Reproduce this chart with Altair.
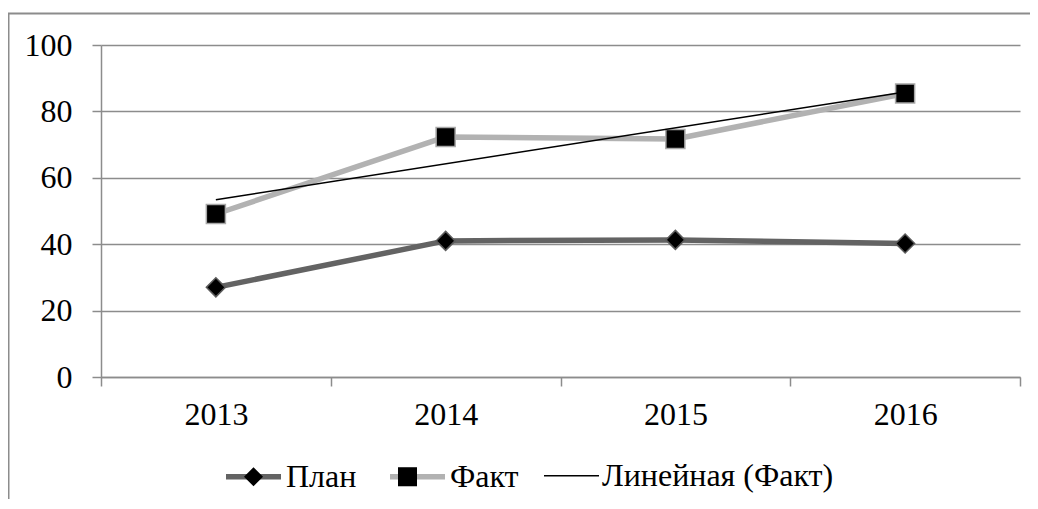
import math
import altair as alt
import pandas as pd

# ---- data ----
years = ["2013", "2014", "2015", "2016"]
plan = [27.0, 41.0, 41.3, 40.2]
fact = [49.1, 72.3, 71.7, 85.4]
series = ["План", "Факт", "Линейная (Факт)"]
y_ticks = [0, 20, 40, 60, 80, 100]

# ---- styles ----
line_colors = ["#636363", "#b2b2b2", "#000000"]
line_widths = [5.5, 5.5, 1.5]
marker_stroke_plan = "#5c5c5c"
marker_stroke_fact = "#a8a8a8"
axis_gray = "#8c8c8c"
FONT = "'Liberation Serif', 'Times New Roman', Times, serif"
FS = 32

df = pd.DataFrame({
    "year": years + years,
    "value": plan + fact,
    "s": [series[0]] * len(years) + [series[1]] * len(years),
})
df["m"] = df["s"]
df["yn"] = df["year"].astype(int)

# legend geometry
LINE_LEN = 55.0
OFF = math.ceil(LINE_LEN + max(line_widths))
SHAPE_W = OFF - 1.5
SHAPE_SIZE = SHAPE_W ** 2
LX, LY = 122, 401
COL_PAD = 22
PLAN_LABEL_W = 69  # approx. rendered width of the first legend label

k = 0.32
diamond = f"M0,-{k}L{k},0L0,{k}L-{k},0Z"
square = f"M-{k},-{k}H{k}V{k}H-{k}Z"

common_leg = dict(
    title=None, orient="none", legendX=LX, legendY=LY, direction="horizontal",
    labelFont=FONT, labelFontSize=FS, labelColor="black", labelOffset=2,
    labelLimit=500, padding=0,
)

x_enc = alt.X("year:O", title=None,
              scale=alt.Scale(type="band", domain=years, paddingInner=0, paddingOuter=0),
              axis=alt.Axis(labelAngle=0, labelFont=FONT, labelFontSize=FS, labelColor="black",
                            tickBand="extent", tickSize=9, tickColor=axis_gray, tickWidth=1.5,
                            domainColor=axis_gray, domainWidth=1.5, labelPadding=13, grid=False))
y_enc = alt.Y("value:Q", title=None,
              scale=alt.Scale(domain=[0, 100], nice=False),
              axis=alt.Axis(values=y_ticks, labelFont=FONT, labelFontSize=FS, labelColor="black",
                            tickSize=9, tickColor=axis_gray, tickWidth=1.5, domainColor=axis_gray,
                            domainWidth=1.5, gridColor=axis_gray, gridWidth=1.5, labelPadding=20))

stroke_enc = alt.Stroke("s:N", scale=alt.Scale(domain=series, range=line_colors),
                        legend=alt.Legend(symbolType="stroke", symbolSize=LINE_LEN ** 2,
                                          symbolFillColor="transparent", columnPadding=COL_PAD,
                                          **common_leg))
sw_enc = alt.StrokeWidth("s:N", scale=alt.Scale(type="ordinal", domain=series, range=line_widths),
                         legend=alt.Legend(symbolType="stroke", symbolSize=LINE_LEN ** 2,
                                           symbolFillColor="transparent", columnPadding=COL_PAD,
                                           **common_leg))

frame = alt.Chart(pd.DataFrame({"f": [0]})).mark_rect(
    fillOpacity=0, stroke=axis_gray, strokeWidth=2
).encode(x=alt.value(-92.5), x2=alt.value(960), y=alt.value(-31.5), y2=alt.value(520))

lines = alt.Chart(df).mark_line(strokeJoin="round", strokeCap="round").encode(
    x=x_enc, y=y_enc, stroke=stroke_enc, strokeWidth=sw_enc, detail="s:N"
)

points = alt.Chart(df).mark_point(filled=True, opacity=1, strokeWidth=1.5).encode(
    x=x_enc, y=y_enc,
    shape=alt.Shape("m:N", scale=alt.Scale(range=[diamond, square]),
                    legend=alt.Legend(symbolSize=SHAPE_SIZE, symbolFillColor="black",
                                      symbolStrokeColor="#808080", symbolStrokeWidth=1.5,
                                      symbolOpacity=1, labelExpr="''",
                                      columnPadding=COL_PAD + PLAN_LABEL_W, **common_leg)),
    fill=alt.value("black"),
    stroke=alt.when(alt.datum.m == series[0]).then(alt.value(marker_stroke_plan))
                 .otherwise(alt.value(marker_stroke_fact)),
    size=alt.value(SHAPE_SIZE),
)

trend = alt.Chart(df).transform_filter(
    alt.datum.s == series[1]
).transform_regression(
    "yn", "value", method="linear", extent=[int(years[0]), int(years[-1])]
).transform_calculate(
    year="toString(datum.yn)", s=f"'{series[2]}'"
).mark_line().encode(
    x=x_enc, y=y_enc, stroke=stroke_enc, strokeWidth=sw_enc
)

chart = alt.layer(frame, lines, points, trend).properties(
    width=919, height=332,
    autosize=alt.AutoSizeParams(type="none"),
    padding={"left": 93, "top": 37, "right": 10, "bottom": 122},
    background="white",
).configure_view(stroke=None)

chart.save("out.html", embed_options={"renderer": "svg", "actions": False})
